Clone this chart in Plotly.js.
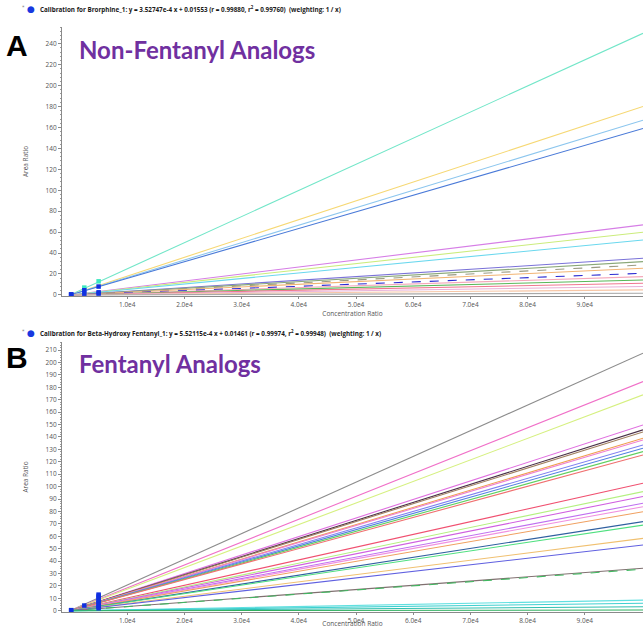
<!DOCTYPE html>
<html>
<head>
<meta charset="utf-8">
<script src="https://cdn.plot.ly/plotly-3.0.1.min.js"></script>
<style>html,body{margin:0;padding:0;background:#fff;}#chart{width:643px;height:628px;}</style>
</head>
<body>
<div id="chart"></div>
<script>
// ---------- DATA ----------
// Concentration span over which each calibration line is drawn
const lineX = [0, 100170];
// Panel A (Non-Fentanyl Analogs): area ratio at the right end of each calibration line
const aEnds = [250, 180, 167, 159, 66.9, 59.9, 52.5, 35, 31.8, 28.7, 25.5, 20.7, 17.5, 14.3, 11.2, 8, 4.8, 1.6];
const aColors = ['#72e6c8','#f6d874','#8cc6ee','#4a7ad8','#d67ee6','#cbec7c','#6ad8ee','#7a72d8','#8aa878','#9a9a82','#f2b474','#2a2ad2','#f4a8ba','#58b858','#f07890','#e8b0d8','#f6c6a6','#a8a8a8'];
const aDash = ['solid','solid','solid','solid','solid','solid','solid','solid','solid','dash','solid','dash','solid','solid','solid','solid','solid','solid'];
// Panel A calibration points
const aPtX = [200, 200, 200, 2500, 2500, 2500, 5000, 5000, 5000, 5000];
const aPtY = [0.5, 0.3, 0.2, 7, 4.5, 1.2, 13, 8, 2.5, 1.3];
const aPtC = ['#1030e0','#1030e0','#1030e0','#3de8c0','#1030e0','#1030e0','#3de8c0','#1030e0','#1030e0','#1030e0'];

// Panel B (Fentanyl Analogs)
const bEnds = [207.5, 184.6, 173.9, 149.7, 145.7, 144, 139, 137.6, 133.6, 130.9, 128.2, 125.5, 102.7, 96, 92, 86.6, 83.8, 79.8, 71.8, 69, 58.3, 53, 34.2, 33.5, 8.6, 6, 3.2, 0.6];
const bColors = ['#8c8c8c','#f070c8','#d6f080','#e070e0','#4a3048','#a08060','#f0a050','#f080d0','#8080f0','#5080e0','#60d060','#f07070','#f05070','#b4f080','#d060e0','#c070f0','#f090e0','#f0a060','#3060a0','#50e080','#f0c070','#6060e0','#807070','#40b860','#60e0e0','#40d0d0','#30c0b0','#30b060'];
const bDash = ['solid','solid','solid','solid','solid','solid','solid','solid','solid','solid','solid','solid','solid','solid','solid','solid','solid','solid','solid','solid','solid','solid','solid','dash','solid','solid','solid','solid'];
const bPtX = [200, 200, 2500, 5000, 5000, 5000, 5000, 5000, 5000, 5000, 5000, 5000];
const bPtY = [0.5, 0.3, 4.2, 13, 12, 10.5, 9, 7.5, 6, 4.5, 3, 2];

// Axis ticks
const xTickVals = [10000, 20000, 30000, 40000, 50000, 60000, 70000, 80000, 90000];
const xTickText = ['1.0e4','2.0e4','3.0e4','4.0e4','5.0e4','6.0e4','7.0e4','8.0e4','9.0e4'];

// Texts
const headerA = '<b>Calibration for Brorphine_1: y = 3.52747e-4 x + 0.01553 (r = 0.99880, r<sup>2</sup> = 0.99760)  (weighting: 1 / x)</b>';
const headerB = '<b>Calibration for Beta-Hydroxy Fentanyl_1: y = 5.52115e-4 x + 0.01461 (r = 0.99974, r<sup>2</sup> = 0.99948)  (weighting: 1 / x)</b>';
const panelLetters = ['A', 'B'];
const panelTitles = ['Non-Fentanyl Analogs', 'Fentanyl Analogs'];

// ---------- BUILD ----------
const W = 643, H = 628, ML = 62;
const px = x => (x - ML) / (W - ML);
const py = y => 1 - y / H;

const traces = [];
aEnds.forEach((v, i) => traces.push({
  x: lineX, y: [0, v], xaxis: 'x', yaxis: 'y', mode: 'lines',
  line: {color: aColors[i], width: 1.1, dash: aDash[i]}, hoverinfo: 'skip', showlegend: false
}));
traces.push({x: aPtX, y: aPtY, xaxis: 'x', yaxis: 'y', mode: 'markers',
  marker: {symbol: 'square', size: 4.5, color: aPtC}, hoverinfo: 'skip', showlegend: false});
bEnds.forEach((v, i) => traces.push({
  x: lineX, y: [0, v], xaxis: 'x2', yaxis: 'y2', mode: 'lines',
  line: {color: bColors[i], width: 1.1, dash: bDash[i]}, hoverinfo: 'skip', showlegend: false
}));
traces.push({x: bPtX, y: bPtY, xaxis: 'x2', yaxis: 'y2', mode: 'markers',
  marker: {symbol: 'square', size: 4.5, color: '#1030e0'}, hoverinfo: 'skip', showlegend: false});

const tickFont = {family: 'Open Sans, sans-serif', size: 6.5, color: '#555'};
const titleFont = {family: 'Open Sans, sans-serif', size: 6.5, color: '#555'};
function xAx(anchor) {
  return {anchor: anchor, range: [-1400, 100170], tickvals: xTickVals, ticktext: xTickText,
    showgrid: false, zeroline: false, showline: true, linecolor: '#8a8a8a', linewidth: 1,
    ticks: 'outside', ticklen: 2, tickcolor: '#8a8a8a', tickfont: tickFont, automargin: false,
    title: {text: 'Concentration Ratio', font: titleFont, standoff: 3}};
}
function yAx(anchor, dom, rng, dt, mdt) {
  return {anchor: anchor, domain: dom, range: rng, dtick: dt, tick0: 0,
    showgrid: false, zeroline: false, showline: true, linecolor: '#8a8a8a', linewidth: 1,
    ticks: 'outside', ticklen: 3, tickcolor: '#8a8a8a', tickfont: tickFont, automargin: false,
    minor: {ticks: 'outside', ticklen: 1.5, dtick: mdt, tickcolor: '#9a9a9a', showgrid: false},
    title: {text: 'Area Ratio', font: titleFont, standoff: 16}};
}

const ann = [];
[[9, 'A'], [333, 'B']].forEach(([y], i) => {
  const t = i === 0 ? headerA : headerB;
  ann.push({xref: 'paper', yref: 'paper', x: px(38), y: py(y), xanchor: 'left', yanchor: 'middle',
    text: t, showarrow: false, font: {family: 'Open Sans, sans-serif', size: 6.3, color: '#1a1a1a'}});
  ann.push({xref: 'paper', yref: 'paper', x: px(31), y: py(y), xanchor: 'center', yanchor: 'middle',
    text: '●', showarrow: false, font: {family: 'DejaVu Sans', size: 9, color: '#1838e0'}});
  ann.push({xref: 'paper', yref: 'paper', x: px(23), y: py(y - 2), xanchor: 'center', yanchor: 'middle',
    text: '*', showarrow: false, font: {family: 'DejaVu Sans', size: 5, color: '#777'}});
});
[[45, 50], [357, 363]].forEach(([yl, yt], i) => {
  ann.push({xref: 'paper', yref: 'paper', x: px(17), y: py(yl), xanchor: 'center', yanchor: 'middle',
    text: '<b>' + panelLetters[i] + '</b>', showarrow: false,
    font: {family: 'Liberation Sans, Arial, sans-serif', size: 30, color: '#000'}});
  ann.push({xref: 'paper', yref: 'paper', x: px(77), y: py(yt), xanchor: 'left', yanchor: 'middle',
    text: '<b>' + panelTitles[i] + '</b>', showarrow: false,
    font: {family: 'Lato, sans-serif', size: 24, color: '#7030a0'}});
});

const layout = {
  width: W, height: H, margin: {l: ML, r: 0, t: 0, b: 0},
  paper_bgcolor: '#fff', plot_bgcolor: '#fff', showlegend: false, hovermode: false,
  xaxis: xAx('y'), yaxis: yAx('x', [0.5287, 0.957], [-1, 256], 20, 4),
  xaxis2: xAx('y2'), yaxis2: yAx('x2', [0.02548, 0.4554], [-1, 216.5], 10, 2),
  annotations: ann
};
Plotly.newPlot('chart', traces, layout, {displayModeBar: false, staticPlot: true});
</script>
</body>
</html>
